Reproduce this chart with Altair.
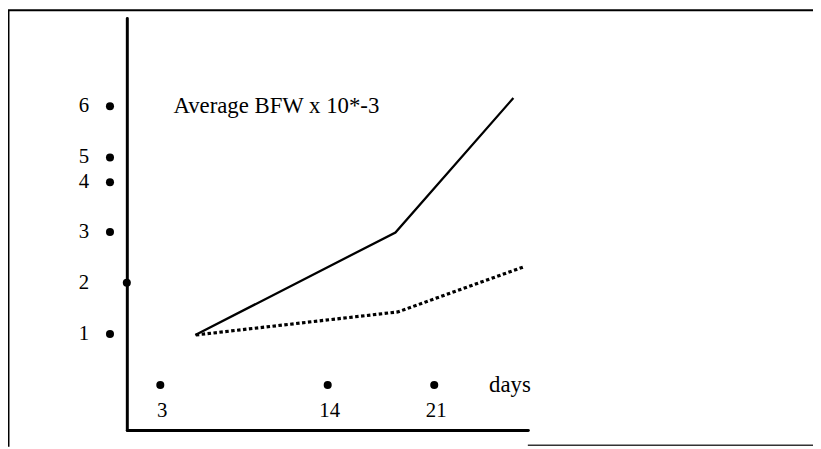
import altair as alt
import pandas as pd

# ---- data ----
solid_days = [5.3, 18.45, 26.2]
solid_vals = [0.98, 2.99, 6.16]
dotted_days = [5.33, 18.6, 26.95]
dotted_vals = [0.98, 1.43, 2.32]

x_tick_days = [3, 14, 21]
x_tick_labels = ["3", "14", "21"]
y_tick_vals = [1, 2, 3, 4, 5, 6]
y_tick_labels = ["1", "2", "3", "4", "5", "6"]

title_text = "Average BFW x 10*-3"
x_unit_text = "days"

FONT = "Liberation Serif"

solid_df = pd.DataFrame({"day": solid_days, "v": solid_vals})
dotted_df = pd.DataFrame({"day": dotted_days, "v": dotted_vals})
xt_df = pd.DataFrame({"day": x_tick_days, "label": x_tick_labels})
yt_df = pd.DataFrame({"v": y_tick_vals, "label": y_tick_labels})
one = pd.DataFrame({"a": [0]})

# hand-drawn axes: x roughly linear, y piecewise (labels 4-6 are squeezed)
xscale = alt.Scale(domain=[0.8, 27.15], zero=False, nice=False)
yscale = alt.Scale(
    domain=[-0.88, 0, 1, 2, 3, 4, 5, 6, 7.72],
    range=[416, 370.5, 319, 267.3, 216, 165.7, 140.7, 89, 0],
    zero=False, nice=False,
)

X = lambda f: alt.X(f, scale=xscale, title=None)
Y = lambda f: alt.Y(f, scale=yscale, title=None)

solid = alt.Chart(solid_df).mark_line(color="black", strokeWidth=2.3).encode(
    x=X("day:Q"), y=Y("v:Q"))
dotted = alt.Chart(dotted_df).mark_line(
    color="black", strokeWidth=3.2, strokeDash=[3.5, 2.5]).encode(
    x=X("day:Q"), y=Y("v:Q"))

xdots = alt.Chart(xt_df).mark_circle(color="black", size=66, opacity=1).encode(
    x=X("day:Q"), y=alt.datum(0))
xlabels = alt.Chart(xt_df).mark_text(
    font=FONT, fontSize=21, color="black", dy=26.5, dx=2, baseline="middle").encode(
    x=X("day:Q"), y=alt.datum(0), text="label:N")

ydots = alt.Chart(yt_df).transform_filter("datum.v != 2").mark_circle(
    color="black", size=66, opacity=1, xOffset=-17).encode(
    x=alt.value(0), y=Y("v:Q"))
ydot2 = alt.Chart(yt_df).transform_filter("datum.v == 2").mark_circle(
    color="black", size=66, opacity=1).encode(
    x=alt.value(0), y=Y("v:Q"))
ylabels = alt.Chart(yt_df).mark_text(
    font=FONT, fontSize=21, color="black", align="right", dx=-38,
    baseline="middle").encode(
    x=alt.value(0), y=Y("v:Q"), text="label:N")

title = alt.Chart(one).mark_text(
    font=FONT, fontSize=23, color="black", align="left", baseline="middle").encode(
    x=alt.datum(3.86), y=alt.datum(6), text=alt.value(title_text))
unit = alt.Chart(one).mark_text(
    font=FONT, fontSize=23, color="black", align="left", baseline="middle").encode(
    x=alt.datum(24.6), y=alt.datum(0), text=alt.value(x_unit_text))

# scanned page frame
frame_top = alt.Chart(one).mark_rule(color="black", strokeWidth=2).encode(
    x=alt.value(-120), x2=alt.value(693), y=alt.value(-8))
frame_left = alt.Chart(one).mark_rule(color="black", strokeWidth=2).encode(
    x=alt.value(-119.5), y=alt.value(-8), y2=alt.value(433))
frame_bottom = alt.Chart(one).mark_rule(color="#333", strokeWidth=1.5).encode(
    x=alt.value(405), x2=alt.value(693), y=alt.value(431.5))

chart = alt.layer(
    frame_top, frame_left, frame_bottom,
    solid, dotted, xdots, xlabels, ydots, ydot2, ylabels, title, unit,
).properties(
    width=405, height=416,
    padding={"left": 120, "top": 8, "right": 288, "bottom": 17},
    autosize=alt.AutoSizeParams(type="none"),
    background="white",
).configure_view(stroke=None).configure_axis(
    labels=False, ticks=False, grid=False,
    domainColor="black", domainWidth=3, domainCap="round",
)

chart.save("out.html", embed_options={"renderer": "svg", "actions": False})
